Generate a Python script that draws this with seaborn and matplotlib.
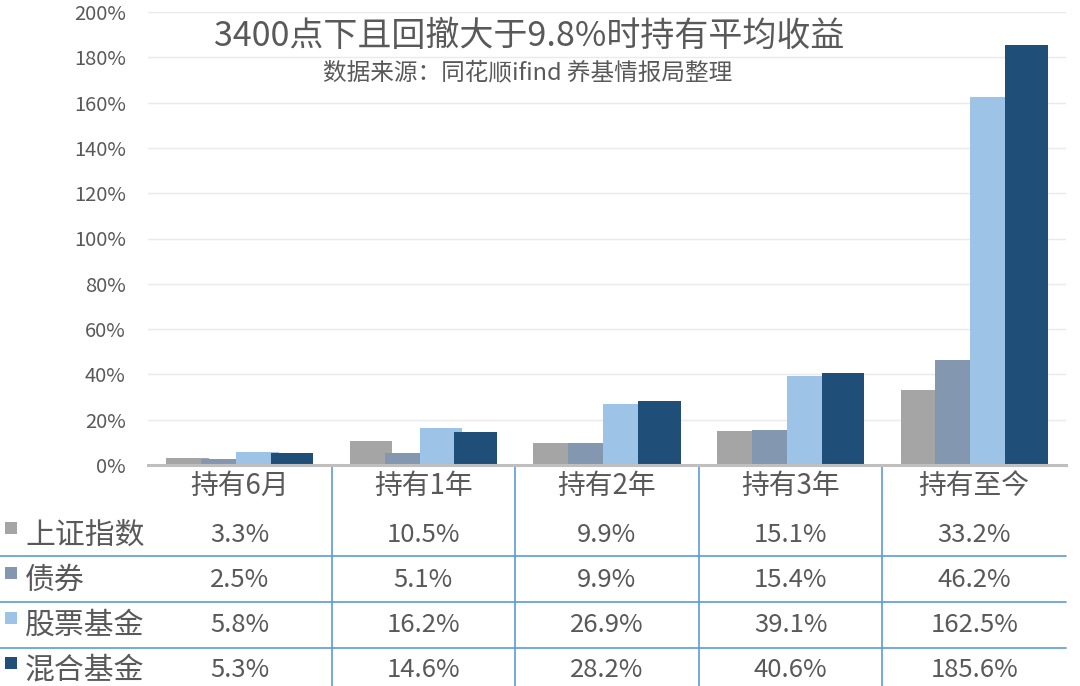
import matplotlib
matplotlib.use("Agg")
import matplotlib.pyplot as plt
import matplotlib.transforms as mtransforms
from matplotlib.lines import Line2D
from matplotlib.patches import Rectangle
import seaborn as sns
import pandas as pd

sns.set_theme(style="white")
plt.rcParams['font.family'] = ['Noto Sans CJK SC', 'DejaVu Sans']

# ---- data ----
periods = ["持有6月", "持有1年", "持有2年", "持有3年", "持有至今"]
series_names = ["上证指数", "债券", "股票基金", "混合基金"]
sh_index = [3.3, 10.5, 9.9, 15.1, 33.2]
bonds = [2.5, 5.1, 9.9, 15.4, 46.2]
stock_funds = [5.8, 16.2, 26.9, 39.1, 162.5]
mixed_funds = [5.3, 14.6, 28.2, 40.6, 185.6]
yticks = [0, 20, 40, 60, 80, 100, 120, 140, 160, 180, 200]
title = "3400点下且回撤大于9.8%时持有平均收益"
subtitle = "数据来源：同花顺ifind 养基情报局整理"

colors = ["#A5A5A5", "#8497B0", "#9DC3E6", "#1F4E79"]
text_color = "#595959"
line_blue = "#5B9BD5"

all_values = [sh_index, bonds, stock_funds, mixed_funds]
df = pd.DataFrame({
    "period": [p for _ in series_names for p in periods],
    "series": [s for s in series_names for _ in periods],
    "value": [v for vals in all_values for v in vals],
})

W, H = 1080, 686
fig = plt.figure(figsize=(W / 100, H / 100), dpi=100)
fig.patch.set_facecolor("white")

ax_left, ax_right, ax_top, ax_bottom = 148, 1066, 12, 465
ax = fig.add_axes([ax_left / W, 1 - ax_bottom / H, (ax_right - ax_left) / W, (ax_bottom - ax_top) / H])

sns.barplot(data=df, x="period", y="value", hue="series", hue_order=series_names,
            order=periods, palette=colors, width=0.76, saturation=1, ax=ax,
            legend=False, errorbar=None)

# Excel-style slight bar overlap
for p in ax.patches:
    w = p.get_width()
    nw = w * 1.22
    p.set_x(p.get_x() - (nw - w) / 2)
    p.set_width(nw)
    p.set_edgecolor("none")

ax.set_xlim(-0.5, 4.5)
ax.set_ylim(0, 200)
ax.set_yticks(yticks)
ax.set_yticklabels([f"{t}%" for t in yticks], color=text_color, fontsize=14.5)
ax.tick_params(axis="y", length=0, pad=16)
ax.yaxis.grid(True, color="#EAEAEA", linewidth=1)
ax.set_axisbelow(True)
for s in ["top", "right", "left"]:
    ax.spines[s].set_visible(False)
ax.spines["bottom"].set_color("#BFBFBF")
ax.spines["bottom"].set_linewidth(2.2)
ax.set_xlabel("")
ax.set_ylabel("")
ax.set_xticks(range(len(periods)))
ax.set_xticklabels(periods, color=text_color, fontsize=20)
ax.tick_params(axis="x", length=0, pad=4)

# title & subtitle
fig.text(529 / W, 1 - 36 / H, title, ha="center", va="center", fontsize=24.5, color=text_color)
fig.text(528 / W, 1 - 73 / H, subtitle, ha="center", va="center", fontsize=17, color=text_color)

# data table
trans = mtransforms.blended_transform_factory(ax.transData, fig.transFigure)
for b in [0.5, 1.5, 2.5, 3.5]:
    ln = Line2D([b, b], [0, 1 - (ax_bottom + 1) / H], transform=trans, color=line_blue,
                linewidth=1.2, clip_on=False)
    ax.add_line(ln)

row_centers = [535, 580, 625, 670]
for y in [556, 602, 648]:
    fig.add_artist(Line2D([0, ax_right / W], [1 - y / H, 1 - y / H], color=line_blue, linewidth=1.2))

for i, (name, vals) in enumerate(zip(series_names, all_values)):
    yc = 1 - row_centers[i] / H
    fig.add_artist(Rectangle((5 / W, 1 - (row_centers[i] - 1) / H), 12 / W, 12 / H,
                             facecolor=colors[i], edgecolor="none"))
    fig.text(25 / W, yc, name, ha="left", va="center", fontsize=21.5, color=text_color)
    for j, v in enumerate(vals):
        ax.text(j, yc, f"{v:.1f}%", transform=trans, ha="center", va="center",
                fontsize=18.5, color=text_color, clip_on=False)

fig.savefig("out.png", dpi=100, facecolor="white")
